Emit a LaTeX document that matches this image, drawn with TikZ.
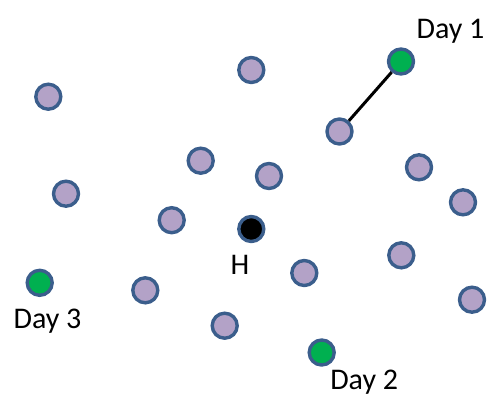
\documentclass[tikz,border=0pt]{standalone}
\usepackage{fontspec}
\setmainfont{Carlito}
\definecolor{lav}{HTML}{B3A2C7}
\definecolor{rim}{HTML}{3B5E8C}
\definecolor{grn}{HTML}{00B050}
\begin{document}
\begin{tikzpicture}[x=1bp,y=-1bp,
  pt/.style={circle,draw=rim,line width=3.4bp,minimum size=25bp,inner sep=0pt,fill=lav},
  gpt/.style={pt,fill=grn},
  hpt/.style={pt,fill=black},
  lbl/.style={anchor=base,inner sep=0pt,font=\fontsize{30bp}{36bp}\selectfont}]
\useasboundingbox (0,0) rectangle (494,398);
\node[pt] (p1) at (48.3,96.7) {};
\node[pt] (p2) at (251.3,70) {};
\node[pt] (p3) at (339.5,131.5) {};
\node[pt] (p4) at (200.7,160.7) {};
\node[pt] (p5) at (269,176) {};
\node[pt] (p6) at (419,167.3) {};
\node[pt] (p7) at (66,193.7) {};
\node[pt] (p8) at (171.7,220.2) {};
\node[pt] (p9) at (463,202.3) {};
\node[pt] (p10) at (401.3,255.3) {};
\node[pt] (p11) at (304.3,273) {};
\node[pt] (p12) at (145.3,290.3) {};
\node[pt] (p13) at (472,299.7) {};
\node[pt] (p14) at (224.7,325.7) {};
\node[gpt] (g1) at (401,61.5) {};
\node[gpt] (g2) at (321.7,352.5) {};
\node[gpt] (g3) at (39.7,282.8) {};
\node[hpt] (h) at (251.3,229) {};
\draw[line width=3bp] (p3) -- (g1);
\node[lbl] (l1) at (450.5,38) {Day 1};
\node[lbl] (l2) at (364.2,389.3) {Day 2};
\node[lbl] (l3) at (47.5,328.3) {Day 3};
\node[lbl] (lh) at (240,274.3) {H};
\end{tikzpicture}
\end{document}
